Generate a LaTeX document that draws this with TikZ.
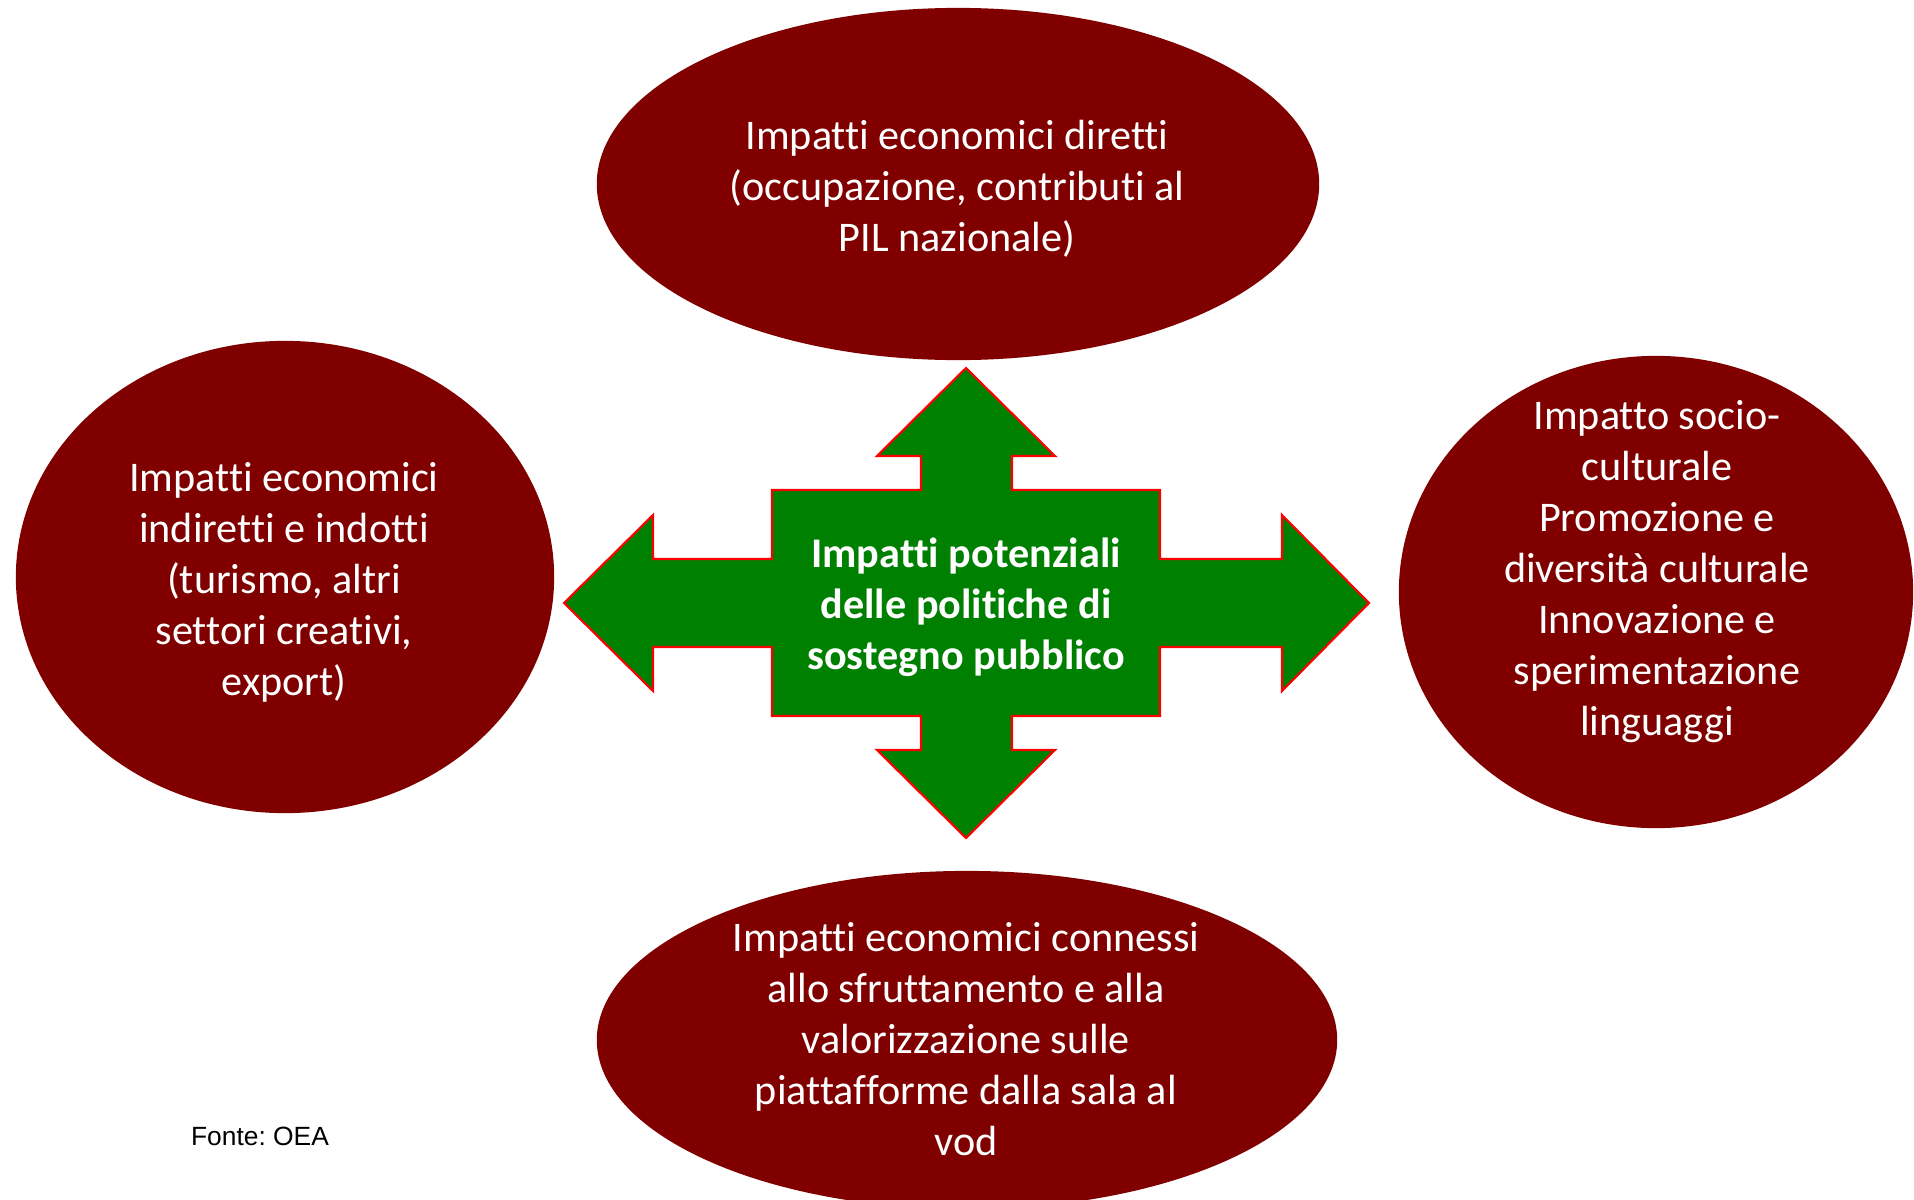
\documentclass[tikz,border=0pt]{standalone}
\usepackage{fontspec}
\setmainfont{Carlito}[Ligatures=NoCommon]
\newfontfamily\arialfont{Liberation Sans}
\definecolor{ovalred}{HTML}{800000}
\definecolor{crossgreen}{HTML}{008000}
\definecolor{crossedge}{HTML}{FF0000}
\frenchspacing
\begin{document}
\begin{tikzpicture}[x=0.01cm,y=-0.01cm,
  oval/.style={fill=ovalred},
  ovaltext/.style={text=white,align=center,inner sep=0pt,font=\fontsize{12}{14.5}\selectfont},
  crosstext/.style={text=white,align=center,inner sep=0pt,font=\fontsize{12}{14.5}\selectfont\bfseries},
  cross/.style={fill=crossgreen,draw=crossedge,line width=0.6pt,line join=miter}]
\useasboundingbox (0,0) rectangle (1914,1200);
\begin{scope}
\clip (0,0) rectangle (1914,1200);
\fill[oval] (958,184) ellipse [x radius=3.61cm, y radius=1.76cm];
\fill[oval] (285,577) ellipse [x radius=2.69cm, y radius=2.36cm];
\fill[oval] (1656,592) ellipse [x radius=2.57cm, y radius=2.36cm];
\fill[oval] (967,1040) ellipse [x radius=3.70cm, y radius=1.69cm];
\end{scope}
\draw[cross] (966,368) -- (1055,456) -- (1012,456) -- (1012,490) -- (1160,490) -- (1160,559)
  -- (1282,559) -- (1282,515) -- (1369,603) -- (1282,691) -- (1282,647) -- (1160,647)
  -- (1160,716) -- (1012,716) -- (1012,750) -- (1055,750) -- (966,838) -- (877,750)
  -- (921,750) -- (921,716) -- (772,716) -- (772,647) -- (653,647) -- (653,691)
  -- (564,603) -- (653,515) -- (653,559) -- (772,559) -- (772,490) -- (921,490)
  -- (921,456) -- (877,456) -- cycle;
\node[crosstext] (centre) at (966,607) {Impatti potenziali\\delle politiche di\\sostegno pubblico};
\node[ovaltext] (top) at (957,189) {Impatti economici diretti\\(occupazione, contributi al\\PIL nazionale)};
\node[ovaltext] (left) at (284,582) {Impatti economici\\indiretti e indotti\\(turismo, altri\\settori creativi,\\export)};
\node[ovaltext] (right) at (1657,572) {Impatto socio-\\culturale\\Promozione e\\diversità culturale\\Innovazione e\\sperimentazione\\linguaggi};
\node[ovaltext] (bottom) at (966,1039) {Impatti economici connessi\\allo sfruttamento e alla\\valorizzazione sulle\\piattafforme dalla sala al\\vod};
\node[inner sep=0pt,font=\arialfont\fontsize{7.5}{9}\selectfont] (fonte) at (260,1136) {Fonte: OEA};
\end{tikzpicture}
\end{document}
